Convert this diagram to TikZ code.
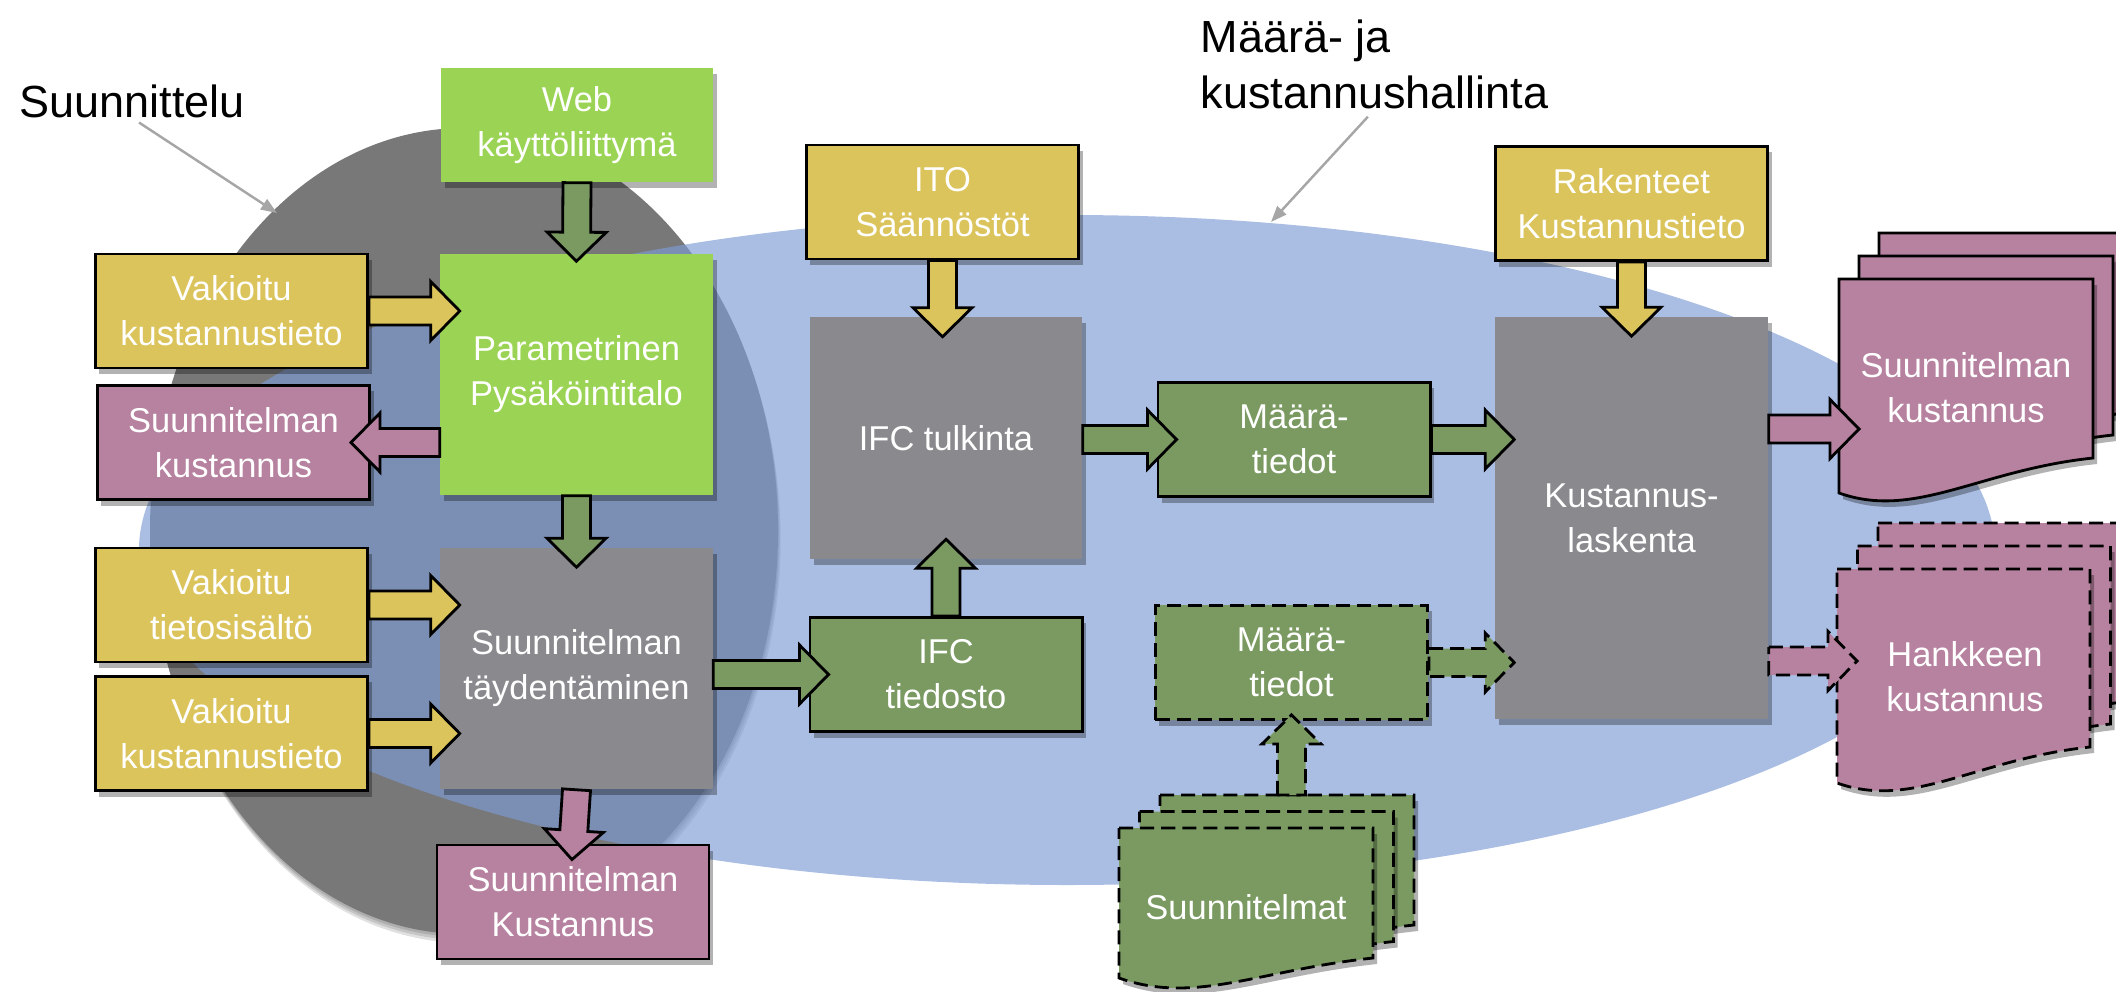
\documentclass[tikz,border=0pt]{standalone}
\usepackage{fontspec}
\setmainfont{Liberation Sans}
\usetikzlibrary{calc}
\usetikzlibrary{arrows.meta}
\usetikzlibrary{shadows}
\definecolor{yellowc}{HTML}{DCC45C}
\definecolor{limec}{HTML}{9BD455}
\definecolor{greyc}{HTML}{8A898E}
\definecolor{pinkc}{HTML}{B782A0}
\definecolor{greenc}{HTML}{7A9A62}
\definecolor{blobgrey}{HTML}{787878}
\definecolor{blobblue}{RGB}{125,154,212}
\tikzset{
	align=center,
	box/.style={
		rectangle,
		inner sep=0pt,
		text=white,
		font=\fontsize{9.8pt}{12.8pt}\selectfont,
		drop shadow={shadow xshift=0.4mm, shadow yshift=-0.6mm, opacity=0.3, fill=black},
	},
	std/.style={box, minimum width=2.72cm, minimum height=1.14cm},
	tall/.style={box, minimum width=2.72cm, minimum height=2.41cm},
	source/.style={fill=yellowc, draw=black, line width=0.8pt},
	ui/.style={fill=limec},
	process/.style={fill=greyc},
	result/.style={fill=pinkc, draw=black, line width=0.8pt},
	datafile/.style={fill=greenc, draw=black, line width=0.8pt},
	possibly/.style={dash pattern=on 4pt off 2pt},
	doctext/.style={
		inner sep=0pt,
		text=white,
		font=\fontsize{9.8pt}{12.8pt}\selectfont,
	},
	sheet/.style={
		fill=#1,
		draw=black,
		line width=0.8pt,
		drop shadow={shadow xshift=0.4mm, shadow yshift=-0.6mm, opacity=0.3, fill=black},
	},
	area/.style={inner sep=0pt, font=\fontsize{12.8pt}{15.9pt}\selectfont},
	pointer/.style={
		draw=black!35,
		line width=0.7pt,
		-{Triangle[length=1.6mm, width=1.2mm]}
	},
	fat in/.store in=\fatin,
	fat in=2mm,
	fat/.style={
		draw=black,
		fill=#1,
		line width=0.8pt,
		line join=miter,
		to path={
			($(\tikztotarget)!-\fatin!(\tikztostart)$) coordinate (fat-t)
			($(fat-t)!2.9mm!(\tikztostart)$) coordinate (fat-h)
			($(\tikztostart)!1.4mm!90:(fat-t)$)
			-- ($(fat-h)!1.4mm!90:(fat-t)$)
			-- ($(fat-h)!2.95mm!90:(fat-t)$)
			-- (fat-t)
			-- ($(fat-h)!2.95mm!-90:(fat-t)$)
			-- ($(fat-h)!1.4mm!-90:(fat-t)$)
			-- ($(\tikztostart)!1.4mm!-90:(fat-t)$)
			-- cycle
		}
	},
}

\begin{document}
\begin{tikzpicture}[x=0.01cm, y=-0.01cm]
	\useasboundingbox (0,0) rectangle (2116,991);
	\clip (0,0) rectangle (2116,991);

	\foreach \s in {9,6,3}
		\fill[black, opacity=0.12] (464+0.3*\s,531+\s) ellipse [x radius=314, y radius=403];
	\fill[blobgrey] (464,531) ellipse [x radius=314, y radius=403];
	\fill[blobblue, fill opacity=0.65] (1067,550) ellipse [x radius=928, y radius=335];

	\node[area, anchor=base west] (suun) at (19,117) {Suunnittelu};
	\node[area, anchor=north west, align=left] (mkt) at (1200,19) {Määrä- ja\\kustannushallinta};
	\coordinate (grey-edge) at (277,213);
	\coordinate (blue-edge) at (1271,222);
	\draw[pointer, shorten <=0.8mm] (suun.south) -- (grey-edge);
	\draw[pointer, shorten <=1mm] (mkt.south) -- (blue-edge);

	\node[std, ui] (web) at (577,125) {Web\\käyttöliittymä};
	\node[tall, ui] (param) at (576.5,374.5) {Parametrinen\\Pysäköintitalo};
	\node[tall, process] (tayd) at (576.5,668.5) {Suunnitelman\\täydentäminen};
	\node[std, source] (vk1) at (231.5,311) {Vakioitu\\kustannustieto};
	\node[std, result] (sk1) at (233.5,442.5) {Suunnitelman\\kustannus};
	\node[std, source] (vts) at (231.5,605) {Vakioitu\\tietosisältö};
	\node[std, source] (vk2) at (231.5,733.5) {Vakioitu\\kustannustieto};
	\node[std, result] (sk2) at (573,902) {Suunnitelman\\Kustannus};
	\node[std, source] (ito) at (942.5,202) {ITO\\Säännöstöt};
	\node[tall, process] (tulk) at (946,438) {IFC tulkinta};
	\node[std, datafile] (ifc) at (946,674.5) {IFC\\tiedosto};
	\node[std, datafile] (maara) at (1294,439.5) {Määrä-\\tiedot};
	\node[std, datafile, possibly] (maara2) at (1291.5,662.5) {Määrä-\\tiedot};
	\node[std, source] (rak) at (1631.5,203.5) {Rakenteet\\Kustannustieto};
	\node[box, process, minimum width=2.73cm, minimum height=4.02cm] (lask) at (1631.5,518) {Kustannus-\\laskenta};

	\foreach \k in {2,1,0}
		\draw[sheet=pinkc, shift={(20*\k,-23*\k)}] (1839,279) -- (2093,279) -- (2093,458) .. controls (1979,470) and (1915,520) .. (1839,493) -- cycle;
	\foreach \k in {2,1,0}
		\draw[sheet=pinkc, possibly, shift={(20.5*\k,-23*\k)}] (1837,569) -- (2090,569) -- (2090,747) .. controls (1976,759) and (1913,810) .. (1837,783) -- cycle;
	\foreach \k in {2,1,0}
		\draw[sheet=greenc, possibly, shift={(20.5*\k,-16.5*\k)}] (1119,828) -- (1373,828) -- (1373,958) .. controls (1259,970) and (1195,1005) .. (1119,978) -- cycle;

	\node[doctext] (dsk) at (1966,388) {Suunnitelman\\kustannus};
	\node[doctext] (dhk) at (1965,677) {Hankkeen\\kustannus};
	\node[doctext] (dsm) at (1246,907) {Suunnitelmat};
	\coordinate (sk-in) at (1839,429);
	\coordinate (hk-in) at (1837,661);
	\coordinate (sm-top) at (1291.5,795);

	\draw[fat=greenc, fat in=0.8mm] (web.south) to (param.north);
	\draw[fat=yellowc] (vk1.east) to (param.west |- vk1.east);
	\draw[fat=pinkc] (param.west |- sk1.east) to (sk1.east);
	\draw[fat=greenc] (param.south) to (tayd.north);
	\draw[fat=yellowc] (vts.east) to (tayd.west |- vts.east);
	\draw[fat=yellowc] (vk2.east) to (tayd.west |- vk2.east);
	\draw[fat=pinkc, fat in=1.6mm] (tayd.south) to (sk2.north);
	\draw[fat=greenc] (tayd.east |- ifc.west) to (ifc.west);
	\draw[fat=yellowc] (ito.south) to (ito.south |- tulk.north);
	\draw[fat=greenc] (ifc.north) to (tulk.south);
	\draw[fat=greenc] (tulk.east |- maara.west) to (maara.west);
	\draw[fat=greenc] (maara.east) to (lask.west |- maara.east);
	\draw[fat=yellowc] (rak.south) to (lask.north);
	\draw[fat=greenc, possibly] (maara2.east) to (lask.west |- maara2.east);
	\draw[fat=greenc, possibly, fat in=0.6mm] (sm-top) to (maara2.south);
	\draw[fat=pinkc] (lask.east |- sk-in) to (sk-in);
	\draw[fat=pinkc, possibly] (lask.east |- hk-in) to (hk-in);

\end{tikzpicture}
\end{document}
